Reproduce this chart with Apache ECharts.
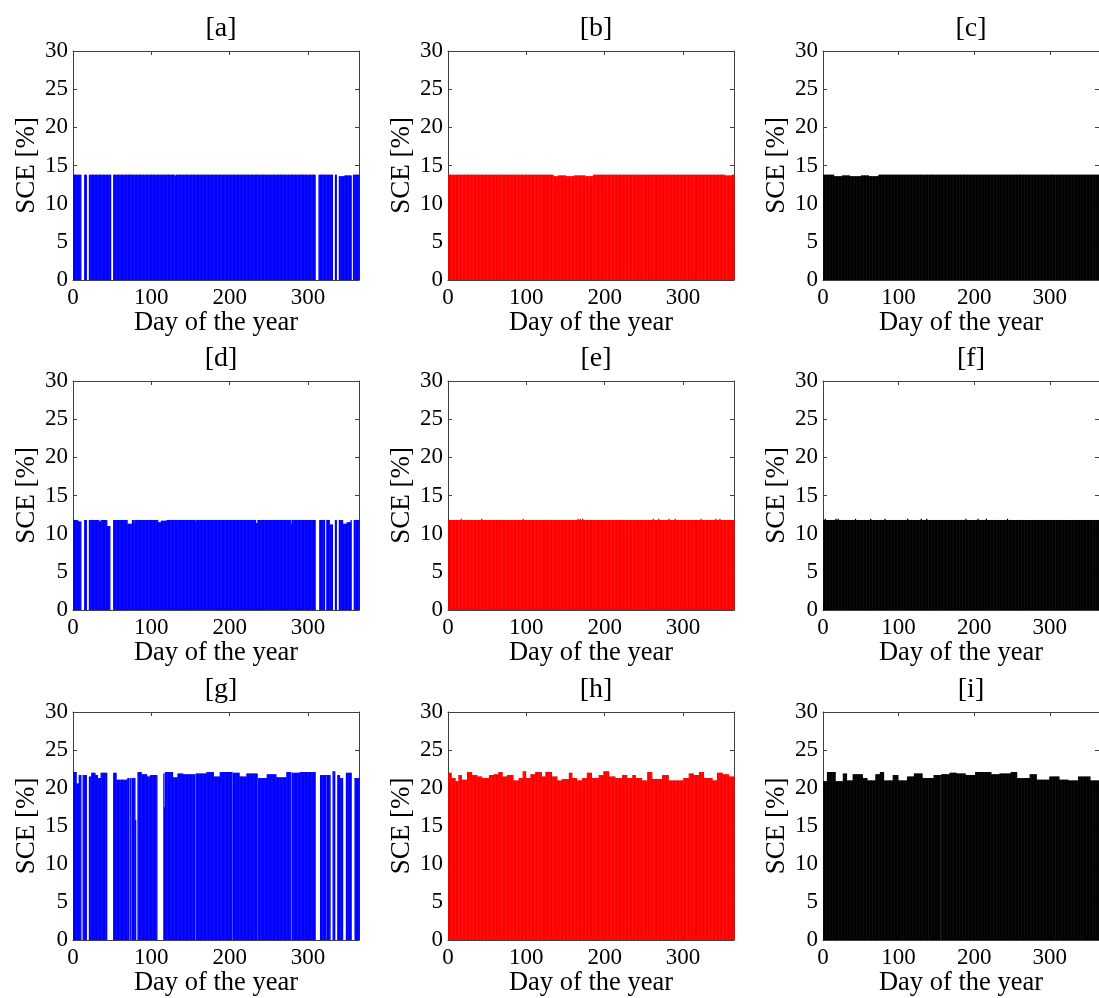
<!DOCTYPE html>
<html>
<head>
<meta charset="utf-8">
<style>
  html, body { margin: 0; padding: 0; background: #fff; }
  #chart { width: 1099px; height: 998px; }
</style>
<script src="https://cdn.jsdelivr.net/npm/echarts@6/dist/echarts.min.js"></script>
</head>
<body>
<div id="chart"></div>
<script>
// panel labels, in reading order
const panelNames = ['[a]', '[b]', '[c]', '[d]', '[e]', '[f]', '[g]', '[h]', '[i]']
const panelColors = ['#0000ff', '#ff0000', '#000000']
const xTicks = [0, 100, 200, 300]
const yTicks = [0, 5, 10, 15, 20, 25, 30]

// daily SCE [%]: [first day, last day, value]
const runsA = [[1, 10, 13.8], [11, 14, 0], [15, 17, 13.8], [18, 20, 0], [21, 48, 13.8], [49, 51, 0],
  [52, 130, 13.8], [131, 131, 13.6], [132, 309, 13.8], [310, 313, 0], [314, 331, 13.8], [332, 334, 0],
  [335, 336, 13.8], [337, 339, 0], [340, 346, 13.6], [347, 355, 13.7], [356, 357, 0], [358, 365, 13.8]]
const runsB = [[1, 134, 13.8], [135, 140, 13.6], [141, 150, 13.7], [151, 160, 13.6], [161, 175, 13.7],
  [176, 185, 13.6], [186, 353, 13.8], [354, 362, 13.7], [363, 365, 13.8]]
const runsC = [[1, 14, 13.8], [15, 25, 13.6], [26, 35, 13.7], [36, 50, 13.6], [51, 60, 13.7],
  [61, 73, 13.6], [74, 365, 13.8]]
const runsD = [[1, 6, 11.8], [7, 10, 11.6], [11, 14, 0], [15, 17, 11.8], [18, 20, 0], [21, 33, 11.8],
  [34, 35, 11.6], [36, 43, 11.8], [44, 47, 11.0], [48, 51, 0], [52, 69, 11.8], [70, 75, 11.3],
  [76, 78, 11.8], [79, 79, 11.4], [80, 108, 11.8], [109, 112, 11.5], [113, 119, 11.7], [120, 155, 11.8],
  [156, 156, 11.6], [157, 233, 11.8], [234, 235, 11.4], [236, 278, 11.8], [279, 279, 11.2],
  [280, 309, 11.8], [310, 314, 0], [315, 321, 11.8], [322, 323, 0], [324, 327, 11.8], [328, 331, 11.2],
  [332, 334, 0], [335, 336, 11.8], [337, 339, 0], [340, 344, 11.8], [345, 349, 11.3], [350, 354, 11.5],
  [355, 355, 11.8], [356, 358, 0], [359, 365, 11.8]]
const runsE = [[1, 16, 11.8], [17, 17, 11.95], [18, 42, 11.8], [43, 43, 11.95], [44, 95, 11.8],
  [96, 96, 11.95], [97, 165, 11.8], [166, 166, 11.95], [167, 168, 11.8], [169, 169, 11.95],
  [170, 171, 11.8], [172, 172, 11.95], [173, 261, 11.8], [262, 262, 11.95], [263, 268, 11.8],
  [269, 269, 11.95], [270, 281, 11.8], [282, 282, 11.95], [283, 289, 11.8], [290, 290, 11.95],
  [291, 322, 11.8], [323, 323, 11.95], [324, 341, 11.8], [342, 342, 11.95], [343, 346, 11.8],
  [347, 347, 11.95], [348, 365, 11.8]]
const runsF = [[1, 2, 11.8], [3, 3, 11.95], [4, 16, 11.8], [17, 17, 11.95], [18, 19, 11.8], [20, 20, 11.95],
  [21, 42, 11.8], [43, 43, 11.95], [44, 62, 11.8], [63, 63, 11.95], [64, 81, 11.8], [82, 82, 11.95],
  [83, 111, 11.8], [112, 112, 11.95], [113, 129, 11.8], [130, 130, 11.95], [131, 136, 11.8],
  [137, 137, 11.95], [138, 188, 11.8], [189, 189, 11.95], [190, 204, 11.8], [205, 205, 11.95],
  [206, 215, 11.8], [216, 216, 11.95], [217, 243, 11.8], [244, 244, 11.95], [245, 365, 11.8]]
const runsG = [[1, 4, 22.1], [5, 7, 20.6], [8, 10, 21.7], [11, 12, 0], [13, 17, 21.7], [18, 20, 0],
  [21, 23, 21.5], [24, 28, 22.0], [29, 31, 21.7], [32, 35, 21.3], [36, 43, 22.0], [44, 51, 0],
  [52, 55, 22.0], [56, 69, 21.1], [70, 71, 21.3], [72, 72, 0], [73, 74, 21.3], [75, 75, 0],
  [76, 79, 21.3], [80, 80, 15.8], [81, 82, 0], [83, 87, 22.1], [88, 94, 21.8], [95, 98, 21.5],
  [99, 107, 21.7], [108, 115, 0], [116, 116, 21.9], [117, 117, 17.5], [118, 127, 22.1], [128, 133, 21.4],
  [134, 140, 21.9], [141, 155, 21.8], [156, 156, 0], [157, 170, 21.9], [171, 179, 22.1], [180, 187, 21.5],
  [188, 203, 22.1], [204, 204, 0], [205, 212, 22.0], [213, 221, 21.5], [222, 235, 21.9], [236, 236, 0],
  [237, 247, 21.3], [248, 259, 21.8], [260, 272, 21.4], [273, 278, 22.1], [279, 279, 0], [280, 289, 22.0],
  [290, 309, 22.1], [310, 315, 0], [316, 322, 21.7], [323, 323, 0], [324, 328, 21.7], [329, 331, 0],
  [332, 334, 22.2], [335, 337, 0], [338, 340, 21.7], [341, 344, 21.3], [345, 348, 0], [349, 355, 22.0],
  [356, 359, 0], [360, 365, 21.3]]
const runsH = [[1, 4, 22.0], [5, 9, 21.3], [10, 13, 20.9], [14, 17, 21.7], [18, 24, 21.1], [25, 30, 22.1],
  [31, 37, 21.7], [38, 43, 21.5], [44, 52, 21.3], [53, 58, 21.7], [59, 64, 21.8], [65, 69, 22.1],
  [70, 75, 21.5], [76, 83, 21.7], [84, 90, 21.0], [91, 95, 21.3], [96, 99, 22.2], [100, 105, 21.3],
  [106, 111, 21.8], [112, 119, 22.1], [120, 124, 21.5], [125, 132, 22.1], [133, 139, 21.5], [140, 145, 21.0],
  [146, 154, 21.2], [155, 158, 22.0], [159, 164, 21.3], [165, 171, 21.0], [172, 177, 21.3], [178, 183, 22.0],
  [184, 192, 21.3], [193, 198, 21.7], [199, 205, 22.2], [206, 213, 21.5], [214, 222, 21.3], [223, 228, 21.7],
  [229, 235, 21.3], [236, 239, 21.7], [240, 247, 21.3], [248, 254, 21.0], [255, 260, 22.1], [261, 273, 21.2],
  [274, 281, 21.7], [282, 300, 21.0], [301, 307, 21.3], [308, 313, 21.9], [314, 320, 21.7], [321, 326, 22.1],
  [327, 337, 21.3], [338, 343, 21.0], [344, 350, 22.0], [351, 358, 21.8], [359, 365, 21.5]]
const runsI = [[1, 5, 20.9], [6, 16, 22.1], [17, 26, 20.9], [27, 31, 21.9], [32, 39, 21.0], [40, 52, 21.8],
  [53, 58, 21.3], [59, 69, 21.0], [70, 75, 21.8], [76, 80, 22.1], [81, 92, 21.0], [93, 99, 21.7],
  [100, 111, 21.0], [112, 120, 21.5], [121, 131, 21.9], [132, 146, 21.3], [147, 155, 21.7], [156, 156, 0],
  [157, 167, 21.8], [168, 176, 22.0], [177, 188, 21.9], [189, 201, 21.7], [202, 222, 22.1], [223, 233, 21.8],
  [234, 248, 21.9], [249, 256, 22.1], [257, 273, 21.3], [274, 282, 21.8], [283, 299, 21.1], [300, 312, 21.5],
  [313, 324, 21.1], [325, 337, 21.0], [338, 353, 21.5], [354, 365, 21.0]]

const panelRuns = [runsA, runsB, runsC, runsD, runsE, runsF, runsG, runsH, runsI]

function expand(runs) {
  const out = []
  runs.forEach(([first, last, v]) => {
    for (let d = first; d <= last; d++) out.push([d, v])
  })
  return out
}

const colLeft = [73, 448, 823]
const rowTop = [51, 381, 712]
const plotW = 286
const plotH = 229
const font = 'Liberation Serif, Times New Roman, serif'
const boxColor = '#404040'

const grids = []
const xAxes = []
const yAxes = []
const series = []
const titles = []

panelNames.forEach((name, i) => {
  const row = Math.floor(i / 3)
  const col = i % 3
  grids.push({ left: colLeft[col], top: rowTop[row], width: plotW, height: plotH })
  titles.push({
    text: name,
    left: colLeft[col] + plotW / 2,
    top: rowTop[row] - 41,
    textAlign: 'center',
    textStyle: { fontFamily: font, fontSize: 28, fontWeight: 'normal', color: '#000' }
  })
  const tickStyle = { show: true, inside: true, length: 4, lineStyle: { color: boxColor } }
  xAxes.push({
    gridIndex: i, type: 'value', min: 0, max: 365, interval: 100, position: 'bottom',
    name: 'Day of the year', nameLocation: 'middle', nameGap: 30,
    nameTextStyle: { fontFamily: font, fontSize: 26.5, color: '#000' },
    axisLine: { onZero: false, lineStyle: { color: boxColor } },
    axisTick: tickStyle,
    axisLabel: {
      fontFamily: font, fontSize: 23, color: '#000', margin: 6, showMaxLabel: false,
      formatter: v => (xTicks.includes(v) ? String(v) : '')
    },
    splitLine: { show: false }
  })
  xAxes.push({
    gridIndex: i, type: 'value', min: 0, max: 365, interval: 100, position: 'top',
    axisLine: { onZero: false, lineStyle: { color: boxColor } },
    axisTick: tickStyle, axisLabel: { show: false }, splitLine: { show: false }
  })
  yAxes.push({
    gridIndex: i, type: 'value', min: 0, max: 30, interval: 5, position: 'left',
    name: 'SCE [%]', nameLocation: 'middle', nameGap: 33, nameRotate: 90,
    nameTextStyle: { fontFamily: font, fontSize: 27, color: '#000' },
    axisLine: { show: true, onZero: false, lineStyle: { color: boxColor } },
    axisTick: tickStyle,
    axisLabel: {
      fontFamily: font, fontSize: 23, color: '#000', margin: 5,
      formatter: v => (yTicks.includes(v) ? String(v) : '')
    },
    splitLine: { show: false }
  })
  yAxes.push({
    gridIndex: i, type: 'value', min: 0, max: 30, interval: 5, position: 'right',
    axisLine: { show: true, onZero: false, lineStyle: { color: boxColor } },
    axisTick: tickStyle, axisLabel: { show: false }, splitLine: { show: false }
  })
  series.push({
    type: 'bar',
    xAxisIndex: i * 2,
    yAxisIndex: i * 2,
    data: expand(panelRuns[i]),
    barWidth: 1.3,
    itemStyle: { color: panelColors[col] },
    animation: false
  })
})

const myChart = echarts.init(document.getElementById('chart'))
myChart.setOption({
  animation: false,
  backgroundColor: '#fff',
  title: titles,
  grid: grids,
  xAxis: xAxes,
  yAxis: yAxes,
  series: series
})
window.addEventListener('resize', function() {
  myChart.resize()
})
</script>
</body>
</html>
